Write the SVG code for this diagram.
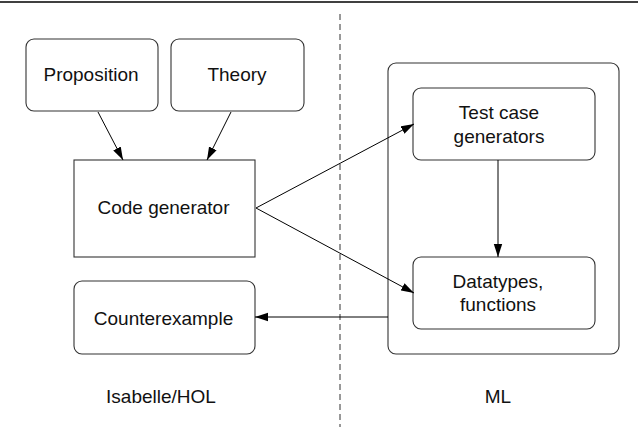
<svg xmlns="http://www.w3.org/2000/svg" width="638" height="427" viewBox="0 0 638 427">
<defs>
<marker id="ah" markerUnits="userSpaceOnUse" markerWidth="14" markerHeight="10" refX="13" refY="5" orient="auto">
<path d="M0,0.8 L13,5 L0,9.2 Z" fill="#000"/>
</marker>
</defs>
<style>
.box{fill:#fff;stroke:#333;stroke-width:1.1}
.lbl{font-family:"Liberation Sans",Arial,sans-serif;font-size:19px;fill:#111;text-anchor:middle}
.con{stroke:#000;stroke-width:1;fill:none}
</style>
<rect width="638" height="427" fill="#fff"/>
<line x1="0" y1="2" x2="638" y2="2" stroke="#000" stroke-width="1.5"/>
<line x1="340" y1="14" x2="340" y2="427" stroke="#333" stroke-width="1" stroke-dasharray="6,4"/>
<g id="ml">
<rect class="box" x="388" y="63" width="231" height="291" rx="8"/>
<text class="lbl" x="498" y="403">ML</text>
</g>
<g id="isabelle">
<text class="lbl" x="161" y="403">Isabelle/HOL</text>
</g>
<g id="proposition">
<rect class="box" x="26" y="39" width="132" height="72" rx="8"/>
<text class="lbl" x="91" y="81">Proposition</text>
</g>
<g id="theory">
<rect class="box" x="171" y="39" width="133" height="72" rx="8"/>
<text class="lbl" x="237" y="81">Theory</text>
</g>
<g id="codegen">
<rect class="box" x="74" y="160" width="181" height="97"/>
<text class="lbl" x="163.5" y="214">Code generator</text>
</g>
<g id="counterexample">
<rect class="box" x="74" y="281" width="181" height="73" rx="8"/>
<text class="lbl" x="163.5" y="325">Counterexample</text>
</g>
<g id="testcase">
<rect class="box" x="413" y="88" width="182" height="72" rx="8"/>
<text class="lbl" x="499" y="119">Test case</text>
<text class="lbl" x="499" y="143">generators</text>
</g>
<g id="datatypes">
<rect class="box" x="413" y="257" width="182" height="72" rx="8"/>
<text class="lbl" x="498" y="288">Datatypes,</text>
<text class="lbl" x="498" y="311">functions</text>
</g>
<g id="connectors">
<line class="con" x1="98" y1="112" x2="123" y2="160" marker-end="url(#ah)"/>
<line class="con" x1="231" y1="112" x2="207" y2="160" marker-end="url(#ah)"/>
<line class="con" x1="256" y1="208" x2="414" y2="124" marker-end="url(#ah)"/>
<line class="con" x1="256" y1="208" x2="414" y2="293" marker-end="url(#ah)"/>
<line class="con" x1="498" y1="160" x2="498" y2="257" marker-end="url(#ah)"/>
<line class="con" x1="388" y1="317" x2="255" y2="317" marker-end="url(#ah)"/>
</g>
</svg>
